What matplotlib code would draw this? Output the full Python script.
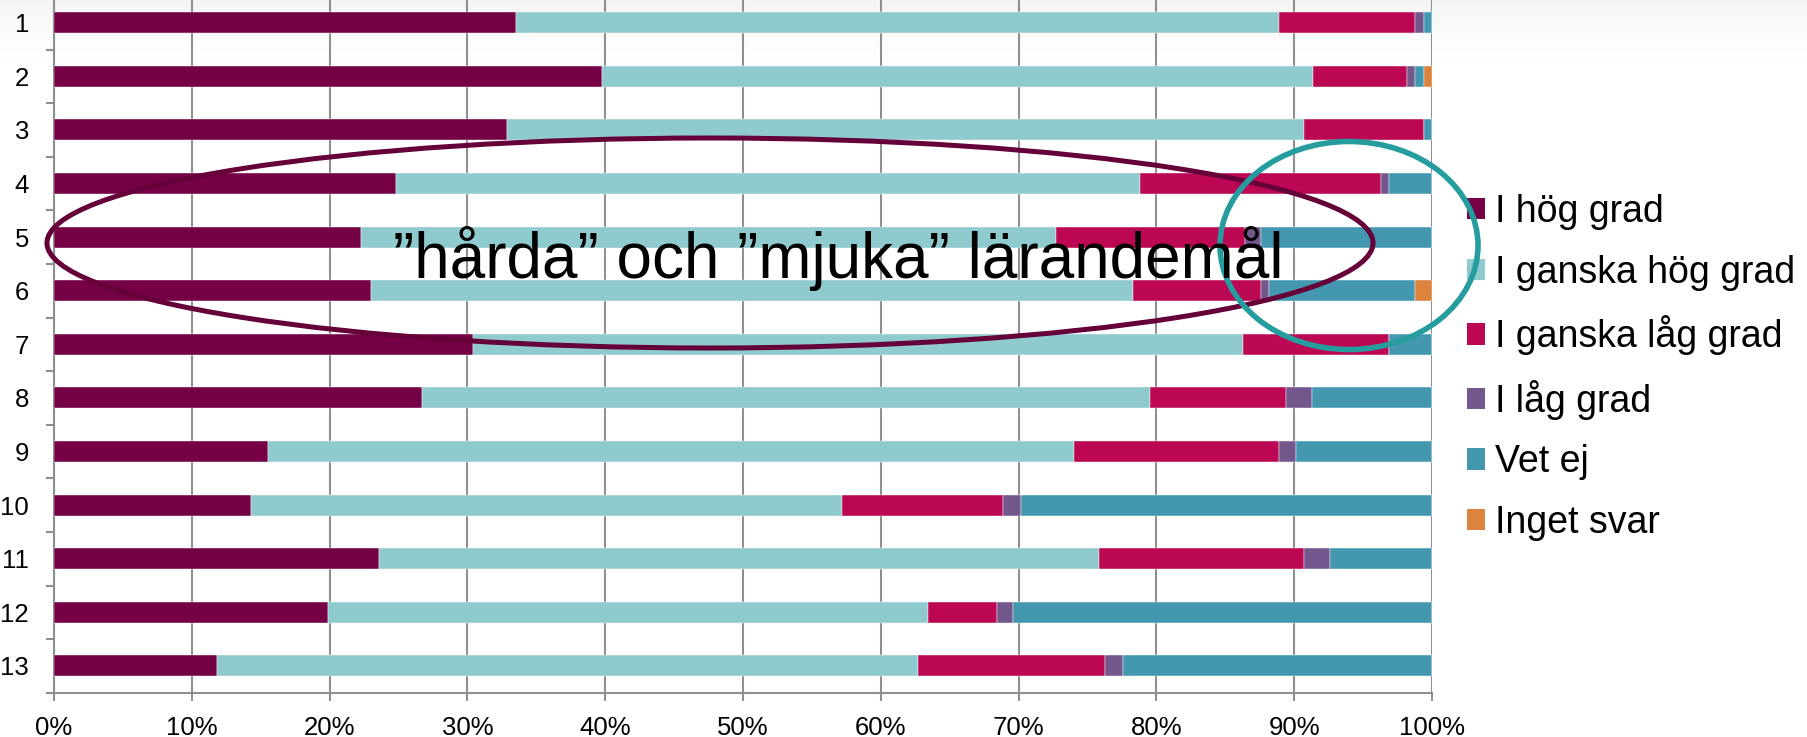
import numpy as np
import matplotlib
matplotlib.use("Agg")
import matplotlib.pyplot as plt
from matplotlib.patches import Ellipse, Patch

plt.rcParams['font.family'] = ['Liberation Sans', 'DejaVu Sans']

categories = ['1', '2', '3', '4', '5', '6', '7', '8', '9', '10', '11', '12', '13']
series_names = ['I hög grad', 'I ganska hög grad', 'I ganska låg grad',
                'I låg grad', 'Vet ej', 'Inget svar']
hog = [33.5, 39.75, 32.9, 24.8, 22.3, 23.0, 30.4, 26.7, 15.5, 14.3, 23.6, 19.9, 11.8]
ganska_hog = [55.4, 51.65, 57.8, 54.0, 50.4, 55.3, 55.9, 52.8, 58.5, 42.9, 52.2, 43.5, 50.9]
ganska_lag = [9.9, 6.8, 8.7, 17.5, 13.7, 9.3, 10.6, 9.9, 14.9, 11.7, 14.9, 5.0, 13.6]
lag = [0.6, 0.6, 0.0, 0.6, 1.2, 0.6, 0.0, 1.9, 1.2, 1.3, 1.9, 1.2, 1.3]
vet_ej = [0.6, 0.6, 0.6, 3.1, 12.4, 10.6, 3.1, 8.7, 9.9, 29.8, 7.4, 30.4, 22.4]
inget_svar = [0.0, 0.6, 0.0, 0.0, 0.0, 1.2, 0.0, 0.0, 0.0, 0.0, 0.0, 0.0, 0.0]
xtick_labels = ['0%', '10%', '20%', '30%', '40%', '50%', '60%', '70%', '80%', '90%', '100%']

colors = ['#760046', '#8fcbce', '#bc0853', '#73588e', '#4398b0', '#dc833d']
series = [hog, ganska_hog, ganska_lag, lag, vet_ej, inget_svar]

W, H = 1808, 737
fig = plt.figure(figsize=(W / 100, H / 100), dpi=100)
fig.patch.set_facecolor('white')

# subtle header gradient at top of slide
bg = fig.add_axes([0, 0, 1, 1], zorder=-5)
grad = np.linspace(0, 1, 60).reshape(-1, 1)
top_col = np.array([0.955, 0.955, 0.955])
img = np.ones((60, 1, 3)) * (top_col + (1 - top_col) * grad[:, :, None] ** 0.7)
bg.imshow(img, extent=[0, 1, 1 - 60 / H, 1], aspect='auto', transform=bg.transAxes)
bg.set_xlim(0, 1); bg.set_ylim(0, 1)
bg.axis('off')

x0, x1 = 54, 1432
ybot = 692.7
step = 53.6
ax = fig.add_axes([x0 / W, (H - ybot) / H, (x1 - x0) / W, 13 * step / H])
ax.set_facecolor('none')

ypos = np.arange(len(categories))
left = np.zeros(len(categories))
for name, vals, c in zip(series_names, series, colors):
    vals = np.array(vals)
    ax.barh(ypos, vals, left=left, height=0.39, color=c, edgecolor='white',
            linewidth=0.3, label=name, zorder=3)
    left += vals

ax.set_xlim(0, 100)
ax.set_ylim(len(categories) - 0.5, -0.5)

gridc = '#8f8f8f'
ax.set_xticks(np.arange(0, 101, 10))
ax.set_xticklabels(xtick_labels, fontsize=18.5)
ax.xaxis.grid(True, color=gridc, linewidth=1.5, zorder=0)
ax.set_axisbelow(True)

ax.set_yticks(np.arange(-0.5, len(categories), 1.0))
ax.set_yticklabels([])
ax.set_yticks(ypos, minor=True)
ax.set_yticklabels(categories, minor=True, fontsize=18.5)
ax.tick_params(axis='y', which='major', length=6, width=1.5, color=gridc, direction='out')
ax.tick_params(axis='y', which='minor', length=0, pad=18)
ax.tick_params(axis='x', which='major', length=5.5, width=1.5, color=gridc, pad=11)

for s in ['top', 'right']:
    ax.spines[s].set_visible(False)
for s in ['left', 'bottom']:
    ax.spines[s].set_color(gridc)
    ax.spines[s].set_linewidth(1.5)

# annotations (figure pixel geometry)
def fx(px):
    return px / W

def fy(py):
    return 1 - py / H

ell = Ellipse((fx(710), fy(243)), width=1326 / W, height=210 / H,
              transform=fig.transFigure, fill=False, edgecolor='#650038',
              linewidth=3.6, zorder=10)
fig.patches.append(ell)
circ = Ellipse((fx(1349), fy(245.5)), width=258 / W, height=208 / H,
               transform=fig.transFigure, fill=False, edgecolor='#259c9e',
               linewidth=4.0, zorder=11)
fig.patches.append(circ)

fig.text(fx(838), fy(278), '\u201dhårda\u201d och \u201dmjuka\u201d lärandemål',
         fontsize=46, ha='center', va='baseline', color='black', zorder=12)

handles = [Patch(facecolor=c, edgecolor='none') for c in colors]
fig.legend(handles, series_names, loc='upper left',
           bbox_to_anchor=(fx(1466.7), fy(194)), frameon=False, fontsize=27,
           handlelength=0.5, handleheight=0.5, handletextpad=0.25,
           labelspacing=0.655, borderpad=0, borderaxespad=0)

fig.savefig('out.png', dpi=100, facecolor='white')
